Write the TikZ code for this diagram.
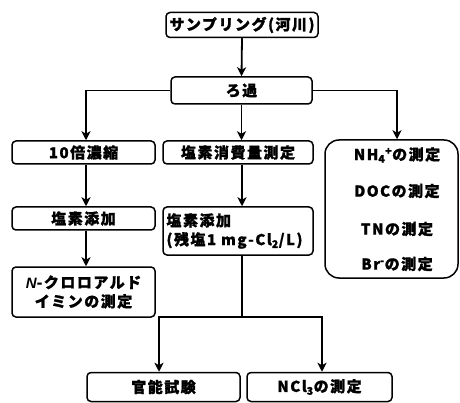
\documentclass[tikz,border=0pt]{standalone}
\usepackage{fontspec}
\newfontfamily\jpf{Noto Sans CJK JP}[LetterSpace=10, BoldFeatures={FakeBold=1.2}]
\newfontfamily\latit{Liberation Sans}
\usetikzlibrary{arrows.meta}
\begin{document}
\begin{tikzpicture}[x=1pt,y=-1pt,
  box/.style={draw, line width=1.5pt, rounded corners=4pt, inner sep=0pt, align=center,
    font=\jpf\bfseries\fontsize{15}{19}\selectfont},
  txt/.style={inner sep=0pt, font=\jpf\bfseries\fontsize{15}{19}\selectfont},
  ln/.style={line width=1.8pt},
  arr/.style={ln, -{Stealth[length=9pt,width=9pt,inset=2.5pt]}}]
\useasboundingbox (0,0) rectangle (460,403);
\node[box, minimum width=152pt, minimum height=25pt] (samp) at (242,25) {サンプリング(河川)};
\node[box, minimum width=141pt, minimum height=27pt] (roka) at (241.5,90.5) {ろ過};
\node[box, minimum width=143pt, minimum height=23pt] (conc) at (83.5,152.5) {10倍濃縮};
\node[box, minimum width=150pt, minimum height=23pt] (cons) at (238,152.5) {塩素消費量測定};
\node[box, minimum width=133pt, minimum height=138pt, rounded corners=14pt] (meas) at (391.5,209) {};
\node[txt] (t1) at (397,155) {NH\textsubscript{4}\textsuperscript{+}の測定};
\node[txt] (t2) at (397,191) {DOCの測定};
\node[txt] (t3) at (397,229) {TNの測定};
\node[txt] (t4) at (397,264) {Br\textsuperscript{-}の測定};
\node[box, minimum width=143pt, minimum height=23pt] (add1) at (83.5,218.5) {塩素添加};
\node[box, minimum width=150pt, minimum height=48pt, text width=143pt, align=left] (add2) at (238,231) {塩素添加\\(残塩1 mg-Cl\textsubscript{2}/L)};
\node[box, minimum width=143pt, minimum height=50pt] (nchl) at (83.5,292) {{\latit\bfseries\itshape N}-クロロアルド\\イミンの測定};
\node[box, minimum width=153pt, minimum height=29pt] (sens) at (163.5,387) {官能試験};
\node[box, minimum width=145pt, minimum height=29pt] (ncl3) at (319.5,387) {NCl\textsubscript{3}の測定};
\coordinate (j) at (242,317);
\draw[arr] (samp.south) -- (roka.north);
\draw[arr] (roka.south) -- (roka.south |- cons.north);
\draw[arr] (roka.west) -| ([xshift=2.5pt]conc.north);
\draw[arr] (roka.east) -| ([xshift=5.5pt]meas.north);
\draw[arr] ([xshift=2.5pt]conc.south) -- ([xshift=2.5pt]add1.north);
\draw[arr] ([xshift=2.5pt]add1.south) -- ([xshift=2.5pt]nchl.north);
\draw[arr] ([xshift=4pt]cons.south) -- ([xshift=4pt]add2.north);
\draw[ln] (add2.south -| j) -- (j);
\draw[arr] (j) -| ([xshift=-4.5pt]sens.north);
\draw[arr] (j) -| ([xshift=2.5pt]ncl3.north);
\end{tikzpicture}
\end{document}
